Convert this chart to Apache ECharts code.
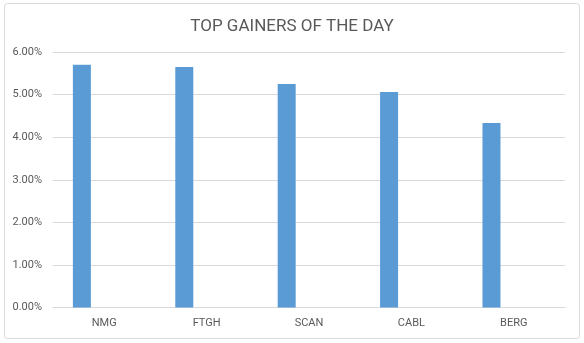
<!DOCTYPE html>
<html><head><meta charset="utf-8">
<script src="https://cdn.jsdelivr.net/npm/echarts@6/dist/echarts.min.js"></script>
<style>html,body{margin:0;padding:0;background:#fff}#c{width:584px;height:343px}</style>
</head><body><div id="c"></div>
<script>
const title = 'TOP GAINERS OF THE DAY';
const categories = ['NMG', 'FTGH', 'SCAN', 'CABL', 'BERG'];
const gains = [0.0570, 0.0565, 0.0525, 0.0506, 0.0433];
const emptySeries = [null, null, null, null, null];
const yTicks = [0, 0.01, 0.02, 0.03, 0.04, 0.05, 0.06];

const chart = echarts.init(document.getElementById('c'), null, {renderer: 'canvas'});
const font = 'Roboto, "Open Sans", sans-serif';
chart.setOption({
  animation: false,
  backgroundColor: '#fff',
  graphic: [{
    type: 'rect', shape: {x: 4.5, y: 3.5, width: 575, height: 335, r: 3},
    style: {fill: 'none', stroke: '#d9d9d9', lineWidth: 1}, silent: true
  }],
  title: {
    text: title, left: 'center', top: 13,
    textStyle: {color: '#595959', fontSize: 17, fontWeight: 'normal', fontFamily: font}
  },
  grid: {left: 53, right: 19, top: 52, bottom: 35.5, containLabel: false},
  xAxis: {
    type: 'category', data: categories,
    axisLine: {lineStyle: {color: '#d9d9d9'}},
    axisTick: {show: false},
    axisLabel: {color: '#595959', fontSize: 11, fontFamily: font, margin: 10}
  },
  yAxis: {
    type: 'value', min: yTicks[0], max: yTicks[yTicks.length - 1], interval: 0.01,
    axisLine: {show: false}, axisTick: {show: false},
    splitLine: {lineStyle: {color: '#d9d9d9'}},
    axisLabel: {color: '#595959', fontSize: 11, fontFamily: font, margin: 11,
      formatter: v => (v * 100).toFixed(2) + '%'}
  },
  series: [
    {type: 'bar', data: gains, barWidth: 18, barGap: '148%', itemStyle: {color: '#5b9bd5'}},
    {type: 'bar', data: emptySeries, barWidth: 18, itemStyle: {color: '#ed7d31'}}
  ]
});
</script></body></html>
